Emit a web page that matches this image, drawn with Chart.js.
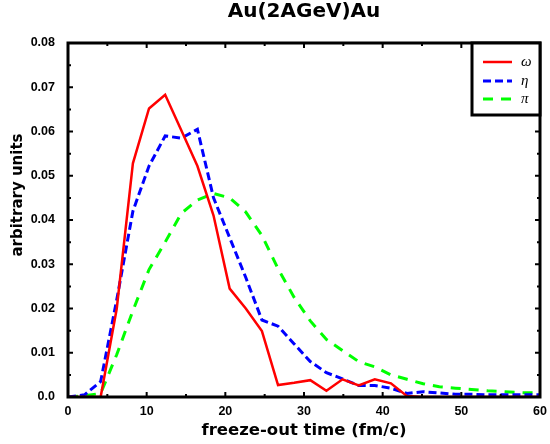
<!DOCTYPE html>
<html>
<head>
<meta charset="utf-8">
<script src="https://cdn.jsdelivr.net/npm/chart.js@4/dist/chart.umd.min.js"></script>
<style>
  html, body { margin: 0; padding: 0; background: #ffffff; }
  #wrap { width: 550px; height: 444px; }
</style>
</head>
<body>
<div id="wrap"><canvas id="c" width="550" height="444"></canvas></div>
<script>
// ---- data ----
const chartTitle = 'Au(2AGeV)Au';
const xLabel = 'freeze-out time (fm/c)';
const yLabel = 'arbitrary units';
const times = [0, 2.1, 4.15, 6.2, 8.25, 10.3, 12.35, 14.4, 16.45, 18.5, 20.55, 22.6, 24.65, 26.7, 28.75,
               30.8, 32.85, 34.9, 36.95, 39.0, 41.05, 43.1, 45.15, 47.2, 49.25, 51.3, 53.35, 55.4, 57.45, 60];
const omegaVals = [0, 0, 0, 0.020, 0.0528, 0.0652, 0.0683, 0.0603, 0.0522, 0.041, 0.0245, 0.020, 0.0149, 0.0027, 0.0032,
                   0.0038, 0.0014, 0.0040, 0.0026, 0.0040, 0.0031, 0.0002, 0, 0, 0, 0, 0, 0, 0, 0];
const etaVals = [0, 0.0005, 0.0035, 0.022, 0.042, 0.0522, 0.059, 0.0585, 0.0605, 0.045, 0.036, 0.027, 0.0174, 0.016, 0.012,
                 0.008, 0.0055, 0.0041, 0.0026, 0.0026, 0.0020, 0.0008, 0.0012, 0.0009, 0.0006, 0.0006, 0.0005, 0.0005, 0.0005, 0.0005];
const piVals = [0, 0.0003, 0.0008, 0.0096, 0.0195, 0.0288, 0.035, 0.0415, 0.0445, 0.046, 0.045, 0.0418, 0.0365, 0.029, 0.0225,
                0.0172, 0.013, 0.0105, 0.008, 0.0068, 0.005, 0.004, 0.003, 0.0023, 0.002, 0.0017, 0.0014, 0.0012, 0.001, 0.0009];
const seriesNames = ['ω', 'η', 'π'];
const xTickStep = 10, yTickStep = 0.01;

function pts(vals) { return times.map((t, i) => ({ x: t, y: vals[i] })); }

const frameAndExtras = {
  id: 'frameAndExtras',
  afterDraw(chart) {
    const ctx = chart.ctx, a = chart.chartArea;
    const xs = chart.scales.x, ys = chart.scales.y;
    ctx.save();
    ctx.strokeStyle = '#000';
    // inward ticks
    ctx.lineWidth = 2;
    for (let v = xs.min; v <= xs.max + 1e-9; v += xTickStep / 2) {
      const px = xs.getPixelForValue(v);
      const major = Math.abs(v / xTickStep - Math.round(v / xTickStep)) < 1e-6;
      const L = major ? 5 : 3;
      ctx.beginPath();
      ctx.moveTo(px, a.bottom); ctx.lineTo(px, a.bottom - L);
      ctx.moveTo(px, a.top); ctx.lineTo(px, a.top + L);
      ctx.stroke();
    }
    for (let v = ys.min; v <= ys.max + 1e-9; v += yTickStep / 2) {
      const py = ys.getPixelForValue(v);
      const major = Math.abs(v / yTickStep - Math.round(v / yTickStep)) < 1e-6;
      const L = major ? 5 : 3;
      ctx.beginPath();
      ctx.moveTo(a.left, py); ctx.lineTo(a.left + L, py);
      ctx.moveTo(a.right, py); ctx.lineTo(a.right - L, py);
      ctx.stroke();
    }
    // frame
    ctx.lineWidth = 3;
    ctx.strokeRect(a.left, a.top, a.right - a.left, a.bottom - a.top);

    // legend box
    const bw = 68, bh = 72;
    const bx = a.right - bw, by = a.top;
    ctx.fillStyle = '#fff';
    ctx.fillRect(bx, by, bw, bh);
    ctx.lineWidth = 3;
    ctx.strokeRect(bx, by, bw, bh);
    const rows = [19, 38, 56];
    chart.data.datasets.forEach((ds, i) => {
      const y = by + rows[i];
      ctx.save();
      ctx.strokeStyle = ds.borderColor;
      ctx.lineWidth = ds.borderWidth;
      ctx.setLineDash(ds.borderDash || []);
      ctx.beginPath();
      ctx.moveTo(bx + 11, y); ctx.lineTo(bx + 40, y);
      ctx.stroke();
      ctx.restore();
      ctx.fillStyle = '#000';
      ctx.font = 'italic 15px "Liberation Serif"';
      ctx.textAlign = 'left';
      ctx.textBaseline = 'middle';
      ctx.fillText(ds.label, bx + 49, y);
    });

    // y axis label
    ctx.save();
    ctx.translate(18, 195);
    ctx.rotate(-Math.PI / 2);
    ctx.fillStyle = '#000';
    ctx.font = 'bold 15px "DejaVu Sans"';
    ctx.textAlign = 'center';
    ctx.textBaseline = 'middle';
    ctx.fillText(yLabel, 0, 0);
    ctx.restore();
    ctx.restore();
  }
};

new Chart(document.getElementById('c'), {
  type: 'line',
  data: {
    datasets: [
      { label: seriesNames[0], data: pts(omegaVals), borderColor: '#ff0000', borderWidth: 2.5, pointRadius: 0, tension: 0, fill: false },
      { label: seriesNames[1], data: pts(etaVals), borderColor: '#0000ff', borderWidth: 3, borderDash: [8, 4], pointRadius: 0, tension: 0, fill: false },
      { label: seriesNames[2], data: pts(piVals), borderColor: '#00ff00', borderWidth: 3, borderDash: [10, 8], pointRadius: 0, tension: 0, fill: false }
    ]
  },
  options: {
    responsive: false,
    animation: false,
    devicePixelRatio: 1,
    layout: { padding: { left: 0, right: 10, top: 0, bottom: 0 } },
    plugins: {
      legend: { display: false },
      tooltip: { enabled: false },
      title: {
        display: true, text: chartTitle, fullSize: false, color: '#000',
        font: { family: 'DejaVu Sans', weight: 'bold', size: 20, lineHeight: 1.0 },
        padding: { top: 1.5, bottom: 21.5 }
      }
    },
    scales: {
      x: {
        type: 'linear', min: 0, max: 60,
        grid: { display: false, drawTicks: false },
        border: { display: false },
        ticks: { stepSize: xTickStep, color: '#000', padding: 7, maxRotation: 0,
                 font: { family: 'Liberation Sans', weight: 'bold', size: 12.5 },
                 callback: v => String(v) },
        title: { display: true, text: xLabel, color: '#000',
                 font: { family: 'DejaVu Sans', weight: 'bold', size: 16.5 },
                 padding: { top: 0, bottom: 3 } },
        afterFit(s) { s.height = 47; s.paddingLeft = 0; s.paddingRight = 0; }
      },
      y: {
        type: 'linear', min: 0, max: 0.08,
        grid: { display: false, drawTicks: false },
        border: { display: false },
        ticks: { stepSize: yTickStep, color: '#000', padding: 13,
                 font: { family: 'Liberation Sans', weight: 'bold', size: 12.5 },
                 callback: v => (Math.abs(v) < 1e-12 ? '0.0' : Number(v).toFixed(2)) },
        afterFit(s) { s.width = 68; s.paddingTop = 0; s.paddingBottom = 0; }
      }
    }
  },
  plugins: [frameAndExtras]
});
</script>
</body>
</html>
